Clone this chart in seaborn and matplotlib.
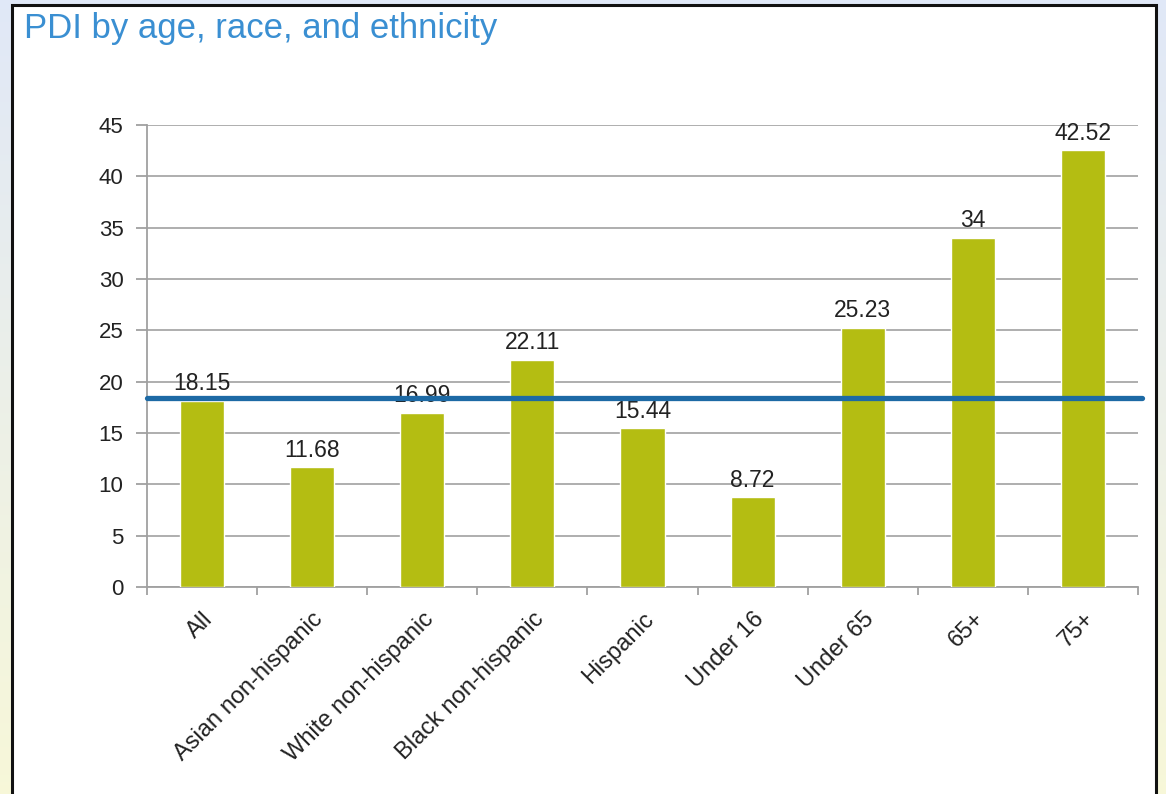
import numpy as np
import pandas as pd
import matplotlib
matplotlib.use("Agg")
import matplotlib.pyplot as plt
from matplotlib.patches import Rectangle
import seaborn as sns

categories = ["All", "Asian non-hispanic", "White non-hispanic", "Black non-hispanic",
              "Hispanic", "Under 16", "Under 65", "65+", "75+"]
pdi_values = [18.15, 11.68, 16.99, 22.11, 15.44, 8.72, 25.23, 34, 42.52]
overall_rate = 18.4
y_ticks = [0, 5, 10, 15, 20, 25, 30, 35, 40, 45]

sns.set_theme(style="white")
plt.rcParams["font.family"] = ["Liberation Sans", "DejaVu Sans"]

fig = plt.figure(figsize=(11.66, 7.94), dpi=100)

# slide background: soft blue fading to pale yellow
bg = fig.add_axes([0, 0, 1, 1], zorder=-10)
top = np.array([0.88, 0.91, 0.97])
bottom = np.array([0.97, 0.97, 0.85])
t = np.linspace(0, 1, 256)[:, None]
grad = (top[None, :] * (1 - t) + bottom[None, :] * t)[:, None, :]
grad = np.repeat(grad, 4, axis=1)
bg.imshow(grad, aspect="auto", extent=[0, 1, 0, 1], origin="upper")
bg.set_axis_off()

# white chart panel with dark frame
panel = Rectangle((12 / 1166, -0.01), (1156 - 12) / 1166, 1 - 5 / 794 + 0.01,
                  transform=fig.transFigure, facecolor="white", edgecolor="#111111",
                  linewidth=2.2, zorder=-5)
fig.patches.append(panel)

fig.text(24 / 1166, 1 - 38 / 794, "PDI by age, race, and ethnicity", color="#3a8fd2",
         fontsize=25, ha="left", va="baseline")

ax = fig.add_axes([147 / 1166, 1 - 587 / 794, (1138 - 147) / 1166, (587 - 125) / 794])
ax.set_facecolor("none")

df = pd.DataFrame({"group": categories, "pdi": pdi_values})
sns.barplot(data=df, x="group", y="pdi", color="#b4bd12", width=0.4, ax=ax,
            saturation=1, zorder=3)

ax.bar_label(ax.containers[0], labels=[f"{v:g}" for v in pdi_values], padding=4,
             fontsize=16.5, color="#222222")

ax.axhline(overall_rate, xmin=0, xmax=1.004, color="#1d6aa5", linewidth=3.8,
           zorder=4, clip_on=False)

ax.set_ylim(0, 45)
ax.set_xlim(-0.5, len(categories) - 0.5)
ax.set_yticks(y_ticks)
ax.set_yticklabels([str(v) for v in y_ticks])
ax.yaxis.grid(True, color="#a8a8a8", linewidth=1.3, zorder=0)
ax.set_axisbelow(True)
ax.set_xlabel("")
ax.set_ylabel("")

for side in ["top", "right"]:
    ax.spines[side].set_visible(False)
for side in ["left", "bottom"]:
    ax.spines[side].set_color("#a0a0a0")
    ax.spines[side].set_linewidth(1.3)

ax.tick_params(axis="y", which="major", left=True, length=8, width=1.3, color="#a0a0a0",
               labelsize=16, labelcolor="#222222", pad=9)
ax.tick_params(axis="x", which="major", bottom=False, length=0, labelsize=17,
               labelcolor="#222222", pad=15)
ax.set_xticks(np.arange(-0.5, len(categories)), minor=True)
ax.tick_params(axis="x", which="minor", bottom=True, length=6, width=1.3, color="#a0a0a0")

for lbl in ax.get_xticklabels():
    lbl.set_rotation(45)
    lbl.set_ha("right")
    lbl.set_va("top")
    lbl.set_rotation_mode("anchor")

fig.savefig("out.png", dpi=100)
